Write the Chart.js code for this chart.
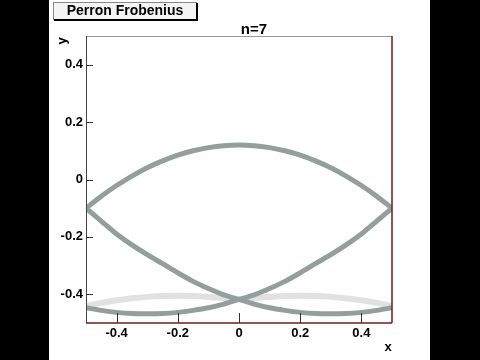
<!DOCTYPE html>
<html>

<head>
    <meta charset="utf-8">
    <script src="https://cdn.jsdelivr.net/npm/chart.js@4/dist/chart.umd.min.js"></script>
    <style>
        body { margin: 0; background: #000; }
    </style>
</head>

<body>
    <div style="width: 480px; height: 360px;">
        <canvas id="wykres" width="480" height="360"></canvas>
    </div>
    <script>
        // x positions of the sampled points
        const xs = [-0.5, -0.45, -0.4, -0.35, -0.3, -0.25, -0.2, -0.15, -0.1, -0.05, 0,
                    0.05, 0.1, 0.15, 0.2, 0.25, 0.3, 0.35, 0.4, 0.45, 0.5];

        // upper arc
        const gornyLuk = [-0.100, -0.058, -0.021, 0.012, 0.041, 0.065, 0.085, 0.100, 0.111, 0.118, 0.120,
                          0.118, 0.111, 0.100, 0.085, 0.065, 0.041, 0.012, -0.021, -0.058, -0.100];

        // falling curve (left top -> right bottom)
        const opadajaca = [-0.100, -0.145, -0.190, -0.228, -0.262, -0.293, -0.325, -0.355, -0.380, -0.402, -0.418,
                           -0.434, -0.447, -0.456, -0.463, -0.467, -0.468, -0.467, -0.463, -0.456, -0.447];

        // rising curve (left bottom -> right top)
        const rosnaca = [-0.447, -0.456, -0.463, -0.467, -0.468, -0.467, -0.463, -0.456, -0.447, -0.434, -0.418,
                         -0.402, -0.380, -0.355, -0.325, -0.293, -0.262, -0.228, -0.190, -0.145, -0.100];

        // faint blurred arcs near the bottom
        const cien = [-0.441, -0.430, -0.421, -0.414, -0.409, -0.406, -0.405, -0.406, -0.409, -0.413, -0.418,
                      -0.413, -0.409, -0.406, -0.405, -0.406, -0.409, -0.414, -0.421, -0.430, -0.441];

        const xTicks = [-0.4, -0.2, 0, 0.2, 0.4];
        const xTickLabels = ["-0.4", "-0.2", "0", "0.2", "0.4"];
        const yTicks = [-0.4, -0.2, 0, 0.2, 0.4];
        const yTickLabels = ["-0.4", "-0.2", "0", "0.2", "0.4"];

        const tytul = "Perron Frobenius";
        const podtytul = "n=7";

        function punkty(ys) {
            return xs.map((x, i) => ({ x: x, y: ys[i] }));
        }

        function seria(ys, kolor, grubosc) {
            return {
                data: punkty(ys),
                showLine: true,
                pointRadius: 0,
                borderColor: kolor,
                borderWidth: grubosc,
                tension: 0.3,
                fill: false,
            };
        }

        const dane = {
            datasets: [
                seria(gornyLuk, "#939f9d", 5),
                seria(opadajaca, "#939f9d", 5),
                seria(rosnaca, "#939f9d", 5),
                seria(cien, "rgba(120,120,120,0.22)", 6),
            ]
        };

        const tlo = {
            id: "tlo",
            beforeDraw(chart) {
                const c = chart.ctx;
                c.save();
                c.fillStyle = "#000";
                c.fillRect(0, 0, chart.width, chart.height);
                c.fillStyle = "#fff";
                c.fillRect(49, 0, 381, chart.height);
                c.restore();
            }
        };

        const ramka = {
            id: "ramka",
            afterDraw(chart) {
                const c = chart.ctx;
                const a = chart.chartArea;
                const sx = chart.scales.x, sy = chart.scales.y;
                c.save();
                // frame
                c.lineWidth = 1;
                c.strokeStyle = "#999";
                c.beginPath(); c.moveTo(a.left, a.top + 0.5); c.lineTo(a.right, a.top + 0.5); c.stroke();
                c.strokeStyle = "#444";
                c.beginPath(); c.moveTo(a.left + 0.5, a.top); c.lineTo(a.left + 0.5, a.bottom); c.stroke();
                c.lineWidth = 1.5;
                c.strokeStyle = "#6e1a1a";
                c.beginPath(); c.moveTo(a.right, a.top); c.lineTo(a.right, a.bottom); c.stroke();
                c.beginPath(); c.moveTo(a.left, a.bottom); c.lineTo(a.right, a.bottom); c.stroke();
                // tick marks inside the frame
                c.lineWidth = 1;
                c.strokeStyle = "#333";
                xTicks.forEach(v => {
                    const p = Math.round(sx.getPixelForValue(v)) + 0.5;
                    c.beginPath(); c.moveTo(p, a.bottom); c.lineTo(p, a.bottom - 10); c.stroke();
                });
                yTicks.forEach(v => {
                    const p = Math.round(sy.getPixelForValue(v)) + 0.5;
                    c.beginPath(); c.moveTo(a.left, p); c.lineTo(a.left + 7, p); c.stroke();
                });
                // title box
                c.fillStyle = "#f4f4f4";
                c.fillRect(53, 2, 143, 17);
                c.strokeStyle = "#888";
                c.strokeRect(53.5, 2.5, 143, 17);
                c.strokeStyle = "#000";
                c.lineWidth = 2;
                c.beginPath(); c.moveTo(197, 3); c.lineTo(197, 20); c.lineTo(54, 20); c.stroke();
                c.fillStyle = "#000";
                c.textAlign = "center";
                c.textBaseline = "middle";
                c.font = "bold 14px 'Liberation Sans', Arial, sans-serif";
                c.fillText(tytul, 125, 11.5);
                c.font = "bold 15px 'Liberation Sans', Arial, sans-serif";
                c.textBaseline = "alphabetic";
                c.fillText(podtytul, 254, 34);
                // axis titles
                c.font = "bold 13px 'Liberation Sans', Arial, sans-serif";
                c.textBaseline = "middle";
                c.fillText("x", 388, 347);
                c.translate(62, 41);
                c.rotate(-Math.PI / 2);
                c.fillText("y", 0, 0);
                c.restore();
            }
        };

        const czcionka = { family: "'Liberation Sans', Arial, sans-serif", size: 13, weight: "bold" };

        const ctx = document.getElementById("wykres").getContext("2d");
        const wykres = new Chart(ctx, {
            type: "scatter",
            data: dane,
            plugins: [tlo, ramka],
            options: {
                responsive: false,
                animation: false,
                layout: { padding: { left: 0, right: 88, top: 36, bottom: 0 } },
                plugins: { legend: { display: false }, tooltip: { enabled: false } },
                scales: {
                    x: {
                        type: "linear",
                        min: -0.5,
                        max: 0.5,
                        grid: { display: false, drawTicks: false },
                        border: { display: false },
                        afterBuildTicks: s => { s.ticks = xTicks.map(v => ({ value: v })); },
                        afterFit: s => { s.height = 37; },
                        ticks: {
                            color: "#000",
                            font: czcionka,
                            padding: 3,
                            maxRotation: 0,
                            autoSkip: false,
                            callback: (v, i) => xTickLabels[i],
                        },
                    },
                    y: {
                        type: "linear",
                        min: -0.5,
                        max: 0.5,
                        grid: { display: false, drawTicks: false },
                        border: { display: false },
                        afterBuildTicks: s => { s.ticks = yTicks.map(v => ({ value: v })); },
                        afterFit: s => { s.width = 86; },
                        ticks: {
                            color: "#000",
                            font: czcionka,
                            padding: 3,
                            autoSkip: false,
                            callback: (v, i) => yTickLabels[i],
                        },
                    },
                },
            },
        });
    </script>
</body>

</html>
